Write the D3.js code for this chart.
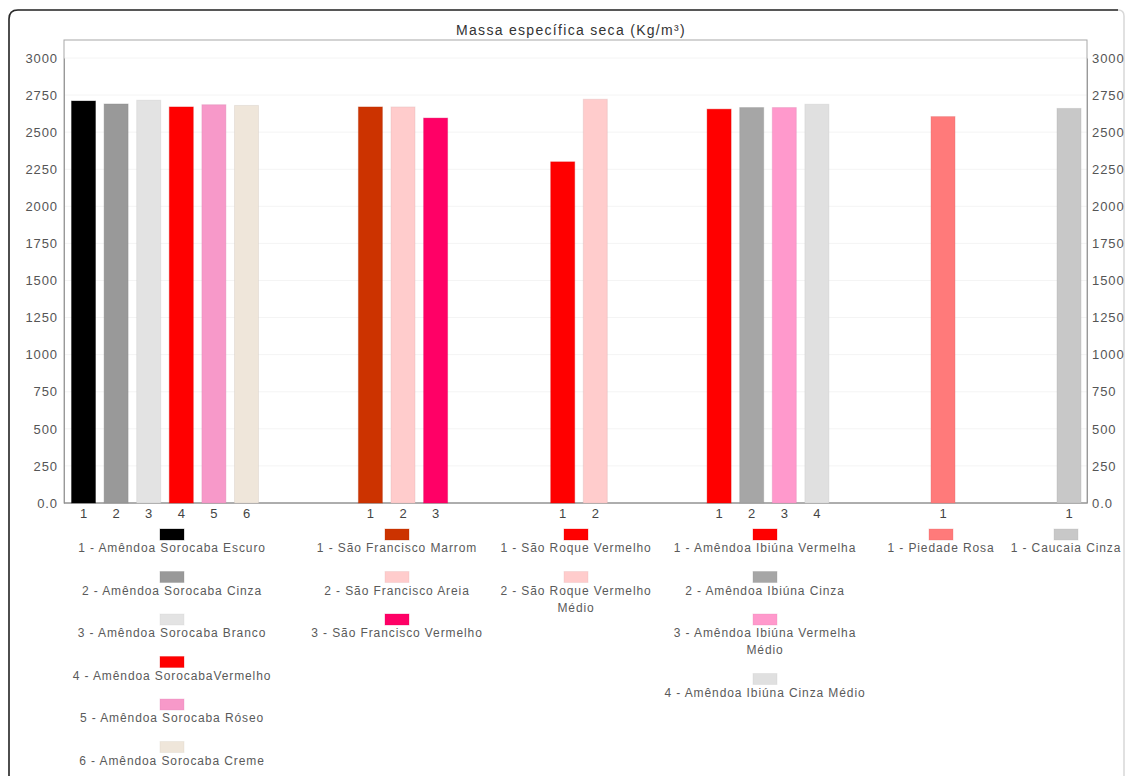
<!DOCTYPE html>
<html><head><meta charset="utf-8">
<script src="https://cdn.jsdelivr.net/npm/d3@7"></script>
<style>
html,body{margin:0;padding:0;background:#fff;}
svg{display:block;font-family:"Liberation Sans",Arial,sans-serif;}
</style></head>
<body>
<svg id="chart" width="1127" height="776"></svg>
<script>
// ---------- DATA ----------
const title = "Massa específica seca (Kg/m³)";
const yTicks = [0, 250, 500, 750, 1000, 1250, 1500, 1750, 2000, 2250, 2500, 2750, 3000];

const g1Labels = ["1 - Amêndoa Sorocaba Escuro", "2 - Amêndoa Sorocaba Cinza", "3 - Amêndoa Sorocaba Branco", "4 - Amêndoa SorocabaVermelho", "5 - Amêndoa Sorocaba Róseo", "6 - Amêndoa Sorocaba Creme"];
const g1Values = [2710, 2690, 2715, 2670, 2685, 2680];
const g1Colors = ["#000000", "#999999", "#e3e3e3", "#ff0000", "#f799c9", "#efe6da"];

const g2Labels = ["1 - São Francisco Marrom", "2 - São Francisco Areia", "3 - São Francisco Vermelho"];
const g2Values = [2670, 2670, 2595];
const g2Colors = ["#cc3300", "#ffcccc", "#ff0066"];

const g3Labels = ["1 - São Roque Vermelho", "2 - São Roque Vermelho Médio"];
const g3Values = [2300, 2722];
const g3Colors = ["#ff0000", "#ffcccc"];

const g4Labels = ["1 - Amêndoa Ibiúna Vermelha", "2 - Amêndoa Ibiúna Cinza", "3 - Amêndoa Ibiúna Vermelha Médio", "4 - Amêndoa Ibiúna Cinza Médio"];
const g4Values = [2655, 2666, 2666, 2688];
const g4Colors = ["#ff0000", "#a6a6a6", "#ff99cc", "#e0e0e0"];

const g5Labels = ["1 - Piedade Rosa"];
const g5Values = [2605];
const g5Colors = ["#ff7a7a"];

const g6Labels = ["1 - Caucaia Cinza"];
const g6Values = [2660];
const g6Colors = ["#c8c8c8"];

const groups = [
  {labels: g1Labels, values: g1Values, colors: g1Colors},
  {labels: g2Labels, values: g2Values, colors: g2Colors},
  {labels: g3Labels, values: g3Values, colors: g3Colors},
  {labels: g4Labels, values: g4Values, colors: g4Colors},
  {labels: g5Labels, values: g5Values, colors: g5Colors},
  {labels: g6Labels, values: g6Values, colors: g6Colors}
];

// ---------- LAYOUT ----------
const W = 1127, H = 776;
const plot = {left: 64, right: 1087, top: 40, bottom: 503, yTop: 58};
const groupCenters = [165, 403, 579, 768, 943, 1069];   // panel centres
const legendCenters = [172, 397, 576, 765, 941, 1066];
const legendWrap = [240, 210, 175, 215, 140, 140];
const barStep = 32.6, barWidth = 24;

const svg = d3.select("#chart");
svg.append("rect").attr("width", W).attr("height", H).attr("fill", "#fff");

// outer frame
svg.append("path")
  .attr("d", `M9,${H} L9,19 Q9,10 18,10 L1118,10 Q1124,10 1124,16 L1124,${H}`)
  .attr("fill", "none").attr("stroke", "#d8d8d8").attr("stroke-width", 1.5);
svg.append("path")
  .attr("d", `M9,${H} L9,19 Q9,10 18,10 L1118,10`)
  .attr("fill", "none").attr("stroke", "#2a2a2a").attr("stroke-width", 1.6);

// title
svg.append("text").attr("x", 571).attr("y", 35).attr("text-anchor", "middle")
  .attr("font-size", 14).attr("letter-spacing", 1.3).attr("fill", "#333").text(title);

const y = d3.scaleLinear().domain([0, 3000]).range([plot.bottom, plot.yTop]);

// faint grid
svg.append("g").selectAll("line").data(yTicks.filter(d => d > 0)).join("line")
  .attr("x1", plot.left).attr("x2", plot.right)
  .attr("y1", d => y(d)).attr("y2", d => y(d))
  .attr("stroke", "#f4f4f4").attr("stroke-width", 1);

// plot frame
svg.append("rect").attr("x", plot.left).attr("y", plot.top)
  .attr("width", plot.right - plot.left).attr("height", plot.bottom - plot.top)
  .attr("fill", "none").attr("stroke", "#a8a8a8").attr("stroke-width", 1);

const fmt = d => d === 0 ? "0.0" : String(d);
const yAxisL = d3.axisLeft(y).tickValues(yTicks).tickFormat(fmt).tickSize(0).tickPadding(6);
const yAxisR = d3.axisRight(y).tickValues(yTicks).tickFormat(fmt).tickSize(0).tickPadding(5);
const gl = svg.append("g").attr("transform", `translate(${plot.left},0)`).call(yAxisL);
const gr = svg.append("g").attr("transform", `translate(${plot.right},0)`).call(yAxisR);
[gl, gr].forEach(g => {
  g.select(".domain").attr("stroke", "#999");
  g.selectAll("text").attr("font-size", 13).attr("letter-spacing", 0.9)
    .attr("fill", "#555").attr("font-family", "Liberation Sans, Arial, sans-serif");
});

// baseline
svg.append("line").attr("x1", plot.left).attr("x2", plot.right)
  .attr("y1", y(0)).attr("y2", y(0)).attr("stroke", "#888").attr("stroke-width", 1.2);

// bars per group
groups.forEach((g, gi) => {
  const n = g.values.length;
  const c = groupCenters[gi];
  const x = d3.scaleBand()
    .domain(g.labels.map((_, i) => String(i + 1)))
    .range([c - n * barStep / 2, c + n * barStep / 2])
    .paddingInner((barStep - barWidth) / barStep)
    .paddingOuter((barStep - barWidth) / barStep / 2);
  const gg = svg.append("g");
  gg.selectAll("rect").data(g.values).join("rect")
    .attr("x", (d, i) => x(String(i + 1)))
    .attr("width", x.bandwidth())
    .attr("y", d => y(d))
    .attr("height", d => y(0) - y(d))
    .attr("fill", (d, i) => g.colors[i])
    .attr("stroke", (d, i) => d3.color(g.colors[i]).darker(0.4))
    .attr("stroke-opacity", 0.35).attr("stroke-width", 1);
  const xa = d3.axisBottom(x).tickSize(0).tickPadding(6);
  const ax = svg.append("g").attr("transform", `translate(0,${y(0)})`).call(xa);
  ax.select(".domain").remove();
  ax.selectAll("text").attr("font-size", 13).attr("fill", "#444")
    .attr("font-family", "Liberation Sans, Arial, sans-serif");

  // legend
  const lc = legendCenters[gi];
  let top = 529;
  const lg = svg.append("g").attr("font-size", 12).attr("letter-spacing", 0.9).attr("fill", "#5a5a5a");
  g.labels.forEach((lab, i) => {
    lg.append("rect").attr("x", lc - 12).attr("y", top).attr("width", 24).attr("height", 11)
      .attr("fill", g.colors[i]).attr("stroke", d3.color(g.colors[i]).darker(0.3)).attr("stroke-opacity", 0.3);
    const t = lg.append("text").attr("text-anchor", "middle");
    const words = lab.split(" ");
    let lines = [], cur = [];
    const probe = lg.append("text").attr("visibility", "hidden");
    words.forEach(w => {
      const test = cur.concat([w]).join(" ");
      probe.text(test);
      if (probe.node().getComputedTextLength() > legendWrap[gi] && cur.length) {
        lines.push(cur.join(" ")); cur = [w];
      } else cur.push(w);
    });
    lines.push(cur.join(" "));
    probe.remove();
    lines.forEach((ln, li) => {
      t.append("tspan").attr("x", lc).attr("y", top + 23 + li * 17).text(ln);
    });
    top += 42.5 + (lines.length - 1) * 17;
  });
});
</script>
</body></html>
